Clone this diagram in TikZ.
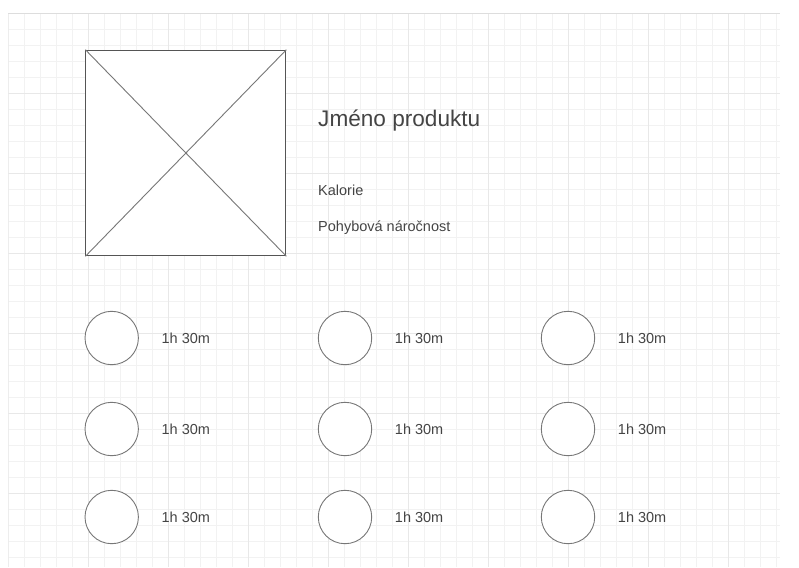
\documentclass[tikz,border=0pt]{standalone}
\usepackage{fontspec}
\setmainfont{Liberation Sans}
\usepackage{tikz}
\usetikzlibrary{positioning}
\definecolor{gridMinor}{HTML}{F2F2F2}
\definecolor{gridMajor}{HTML}{E8E8E8}
\definecolor{gridTop}{HTML}{DDDDDD}
\definecolor{frameGray}{HTML}{555555}
\definecolor{lineGray}{HTML}{777777}
\definecolor{textGray}{HTML}{444444}

\begin{document}
\begin{tikzpicture}[x=1pt,y=-1pt,
    lbl/.style={inner sep=0pt,text=textGray,font=\fontsize{14.5}{17}\selectfont},
    slot/.style={circle,draw=lineGray,line width=0.9pt,minimum size=53.4pt,inner sep=0pt}]
    \useasboundingbox (0,0) rectangle (799,567);
    % background grid
    \begin{scope}
      \clip (8.3,13.3) rectangle (780,567);
      \foreach \k in {0,...,48}
        \draw[gridMinor,line width=0.8pt] (8.3+16*\k,13.3) -- (8.3+16*\k,567);
      \foreach \k in {0,...,35}
        \draw[gridMinor,line width=0.8pt] (8.3,13.3+16*\k) -- (780,13.3+16*\k);
      \foreach \k in {0,...,9}
        \draw[gridMajor,line width=0.8pt] (8.3+80*\k,13.3) -- (8.3+80*\k,567);
      \foreach \k in {0,...,7}
        \draw[gridMajor,line width=0.8pt] (8.3,13.3+80*\k) -- (780,13.3+80*\k);
    \end{scope}
    \draw[gridTop,line width=1pt] (8.3,13.3) -- (780,13.3);
    % product image placeholder
    \node (photo) [draw=frameGray,line width=0.9pt,fill=white,minimum width=200pt,minimum height=205.6pt,inner sep=0pt] at (185.9,153) {};
    \draw[lineGray,line width=0.9pt] (photo.north west) -- (photo.south east);
    \draw[lineGray,line width=0.9pt] (photo.south west) -- (photo.north east);
    % product texts
    \node (name) [lbl,anchor=base west,font=\fontsize{22.6}{27}\selectfont] at (318,126.7) {Jméno produktu};
    \node (kcal) [lbl,anchor=base west] at (318,195.7) {Kalorie};
    \node (effort) [lbl,anchor=base west] at (318,231.7) {Pohybová náročnost};
    % activity slots
    \foreach \r/\y in {1/338,2/429,3/517}
      \foreach \c/\x in {1/111.7,2/345,3/568}{
        \node (c\r\c) [slot,fill=white] at (\x,\y) {};
        \node (t\r\c) [lbl,anchor=west,right=22.6pt of c\r\c] {1h 30m};
      }
  \end{tikzpicture}
\end{document}
